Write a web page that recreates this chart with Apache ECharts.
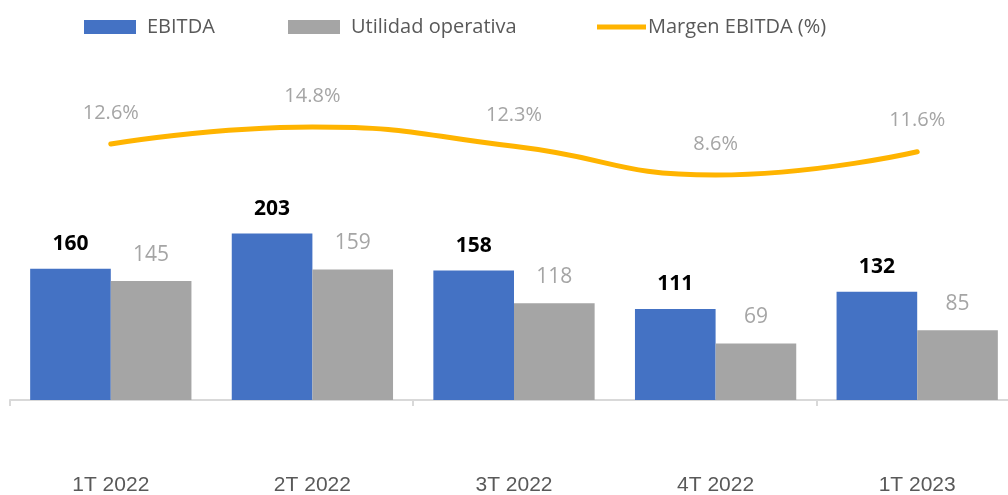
<!DOCTYPE html>
<html>
<head>
<meta charset="utf-8">
<script src="https://cdn.jsdelivr.net/npm/echarts@6/dist/echarts.min.js"></script>
<style>
  html, body { margin: 0; padding: 0; background: #fff; }
  #chart { width: 1008px; height: 495px; }
</style>
</head>
<body>
<div id="chart"></div>
<script>
var quarters = ['1T 2022', '2T 2022', '3T 2022', '4T 2022', '1T 2023'];
var ebitda = [160, 203, 158, 111, 132];
var utilidad = [145, 159, 118, 69, 85];
var margen = [12.6, 14.8, 12.3, 8.6, 11.6];

var txtFont = 'Open Sans';

var chart = echarts.init(document.getElementById('chart'));

// una leyenda por serie, para poder colocar cada una donde va
function legendAt(left, name, w, h, gap) {
  return {
    left: left,
    top: 17,
    padding: 0,
    data: [name],
    icon: 'rect',
    itemWidth: w,
    itemHeight: h,
    selectedMode: false,
    textStyle: {
      fontFamily: txtFont,
      fontSize: 20,
      color: '#595959',
      padding: [0, 0, 0, gap]
    }
  };
}

var option = {
  animation: false,
  backgroundColor: '#fff',
  legend: [
    legendAt(84, 'EBITDA', 52, 14, 6),
    legendAt(288, 'Utilidad operativa', 52, 14, 6),
    legendAt(597, 'Margen EBITDA (%)', 49, 5, -3)
  ],
  grid: {
    left: 10,
    top: 70,
    width: 1008,
    bottom: 95,
    outerBoundsMode: 'none'
  },
  xAxis: {
    type: 'category',
    data: quarters,
    axisLine: { lineStyle: { color: '#d9d9d9', width: 2 } },
    axisTick: { show: true, interval: 1, length: 6, lineStyle: { color: '#d9d9d9', width: 2 } },
    axisLabel: {
      margin: 75,
      fontFamily: 'Liberation Sans',
      fontSize: 21,
      color: '#595959'
    }
  },
  yAxis: [{
    type: 'value',
    min: 0,
    max: 402.4,
    show: false,
    splitLine: { show: false }
  }, {
    type: 'value',
    min: -20.43,
    max: 22.15,
    show: false,
    splitLine: { show: false }
  }],
  series: [{
    name: 'EBITDA',
    type: 'bar',
    data: ebitda,
    barGap: '0%',
    barCategoryGap: '20%',
    itemStyle: { color: '#4472C4' },
    label: {
      show: true,
      position: 'top',
      distance: 14,
      fontFamily: txtFont,
      fontSize: 21,
      fontWeight: 'bold',
      color: '#000'
    }
  }, {
    name: 'Utilidad operativa',
    type: 'bar',
    data: utilidad,
    itemStyle: { color: '#A5A5A5' },
    label: {
      show: true,
      position: 'top',
      distance: 16,
      fontFamily: txtFont,
      fontSize: 21,
      color: '#A5A5A5'
    }
  }, {
    name: 'Margen EBITDA (%)',
    type: 'line',
    yAxisIndex: 1,
    data: margen,
    smooth: 0.5,
    showSymbol: true,
    symbol: 'circle',
    symbolSize: 0,
    lineStyle: { color: '#FFB400', width: 5, cap: 'round' },
    itemStyle: { color: '#FFB400' },
    label: {
      show: true,
      position: 'top',
      distance: 21,
      fontFamily: txtFont,
      fontSize: 20,
      color: '#A5A5A5',
      formatter: function (p) { return p.value.toFixed(1) + '%'; }
    }
  }]
};

chart.setOption(option);
</script>
</body>
</html>
